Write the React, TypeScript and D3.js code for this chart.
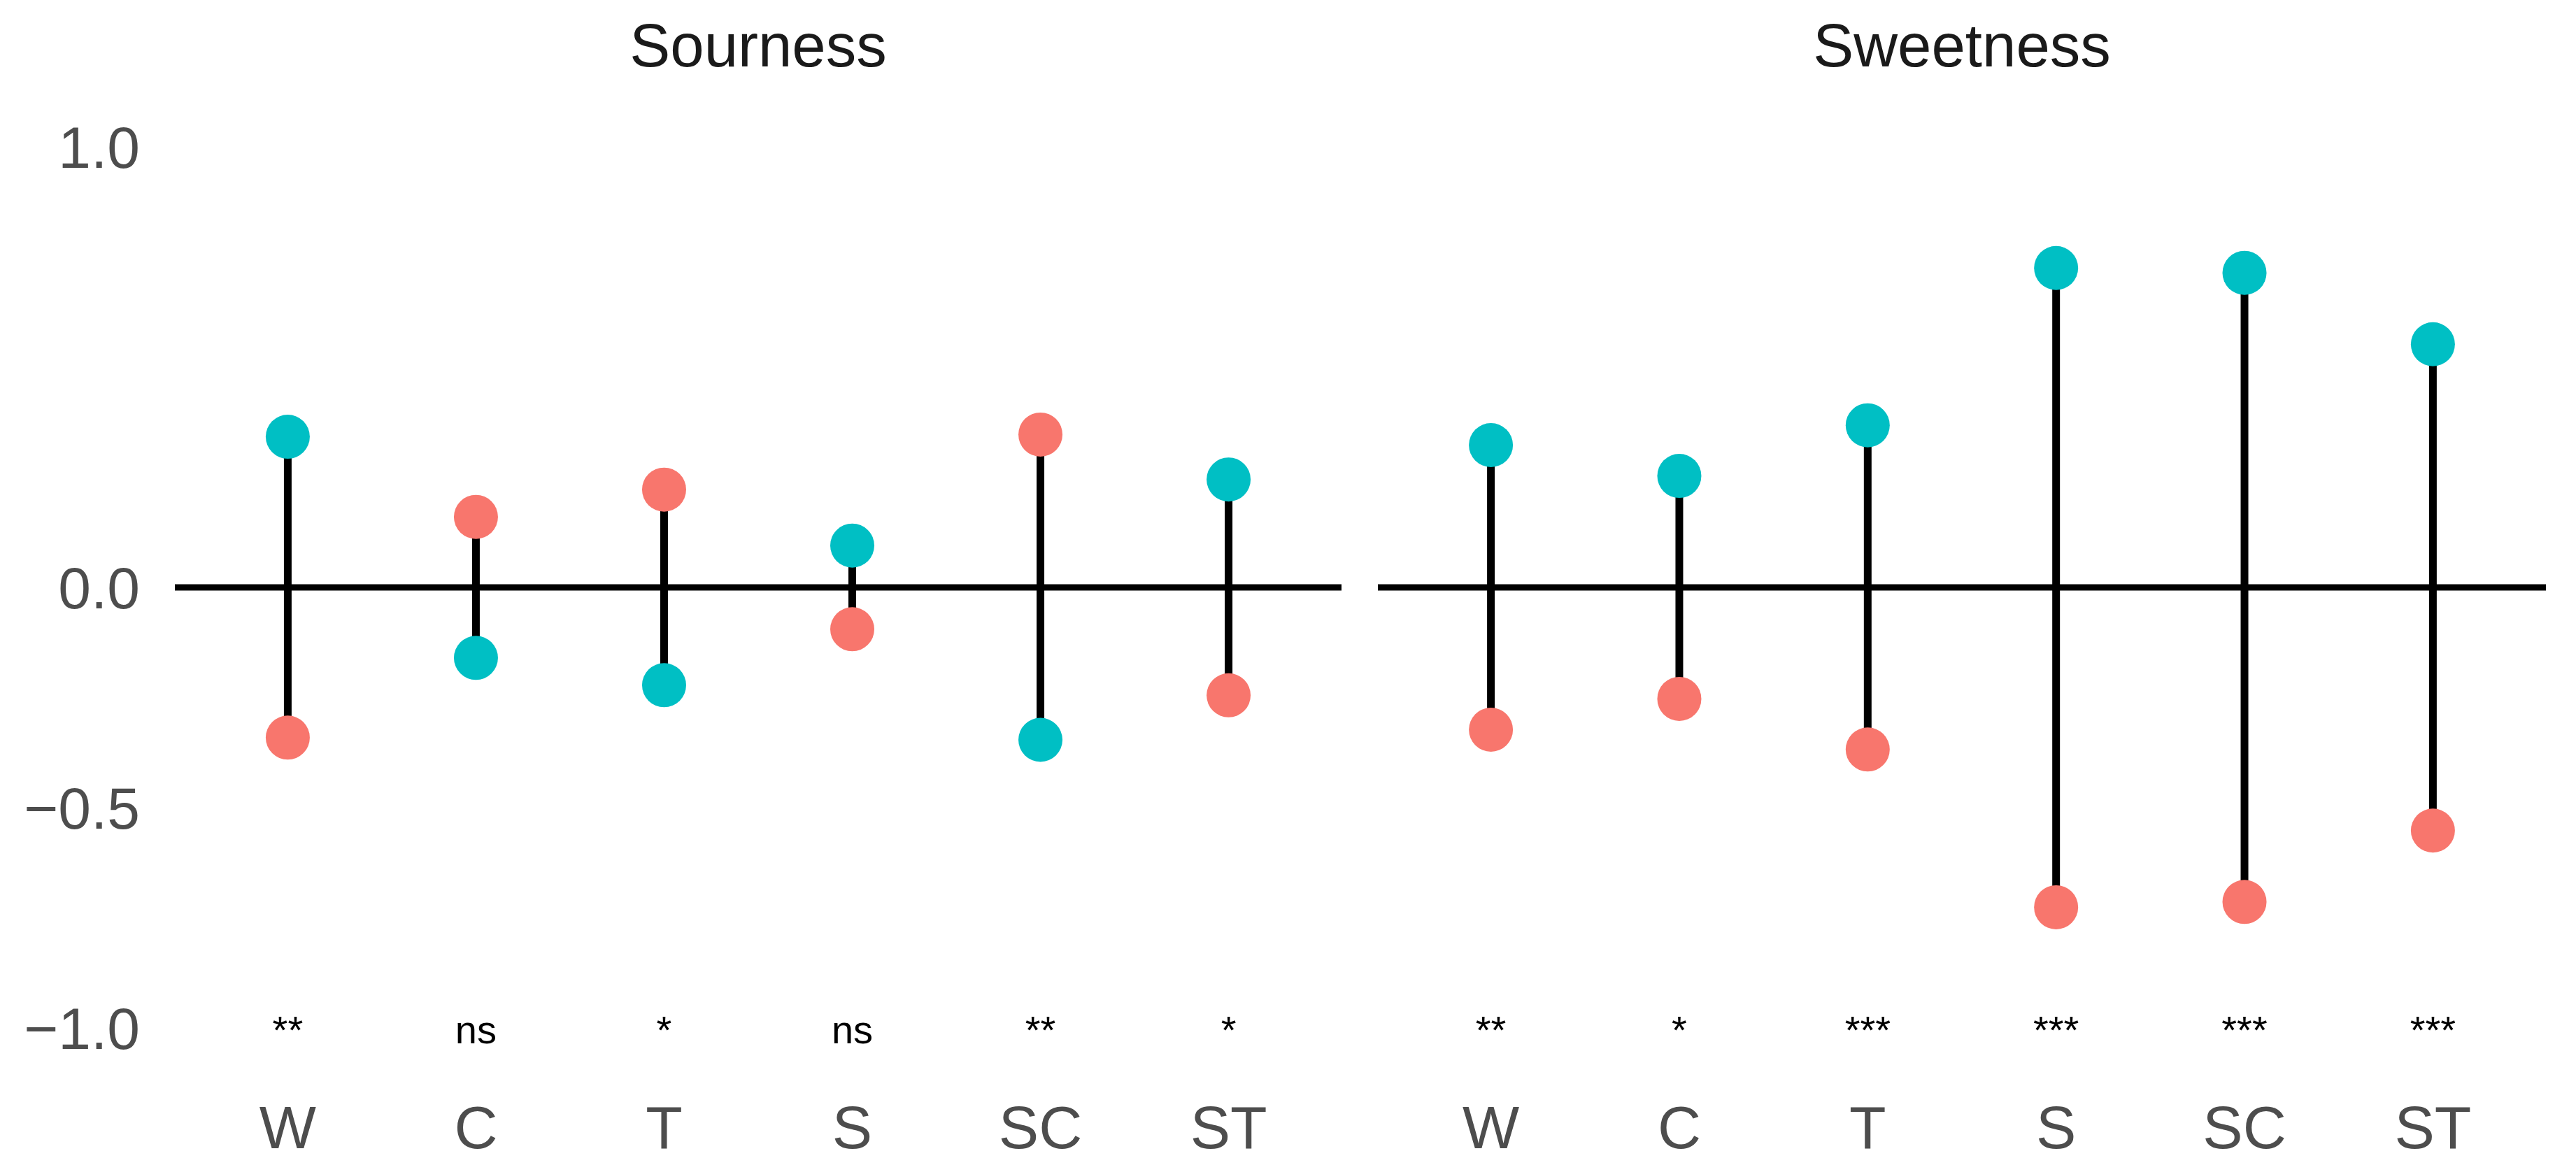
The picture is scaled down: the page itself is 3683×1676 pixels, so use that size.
import React from "react";
import * as d3 from "d3";

const categories = ["W", "C", "T", "S", "SC", "ST"];
const panels = ["Sourness", "Sweetness"];
// teal series
const sournessTeal = [0.342, -0.16, -0.222, 0.095, -0.346, 0.245];
const sweetnessTeal = [0.323, 0.253, 0.368, 0.725, 0.714, 0.552];
// salmon series
const sournessSalmon = [-0.341, 0.16, 0.222, -0.095, 0.347, -0.245];
const sweetnessSalmon = [-0.323, -0.253, -0.368, -0.726, -0.714, -0.552];
const sournessSig = ["**", "ns", "*", "ns", "**", "*"];
const sweetnessSig = ["**", "*", "***", "***", "***", "***"];
const yTicks = [-1.0, -0.5, 0.0, 1.0];

const W = 3683;
const H = 1676;
const TEAL = "#00BFC4";
const SALMON = "#F8766D";
const FONT = "'Liberation Sans', Arial, Helvetica, sans-serif";

const panelRanges: [number, number][] = [
  [250, 1918],
  [1970, 3640],
];

export default function App() {
  const y = d3.scaleLinear().domain([-1, 1]).range([1470, 210]);
  const teal = [sournessTeal, sweetnessTeal];
  const salmon = [sournessSalmon, sweetnessSalmon];
  const sig = [sournessSig, sweetnessSig];
  const fmt = (v: number) => d3.format(".1f")(v).replace("-", "\u2212");

  return (
    <svg
      width={W}
      height={H}
      style={{ position: "absolute", left: 0, top: 0, background: "#fff" }}
      fontFamily={FONT}
    >
      <rect x={0} y={0} width={W} height={H} fill="#fff" />
      {yTicks.map((t) => (
        <text
          key={t}
          x={200}
          y={y(t)}
          dy="0.36em"
          textAnchor="end"
          fontSize={84}
          fill="#4D4D4D"
        >
          {fmt(t)}
        </text>
      ))}
      {panels.map((p, pi) => {
        const x = d3
          .scalePoint<string>()
          .domain(categories)
          .range(panelRanges[pi])
          .padding(0.6);
        const [x0, x1] = panelRanges[pi];
        return (
          <g key={p}>
            <text
              x={(x0 + x1) / 2}
              y={95}
              textAnchor="middle"
              fontSize={87}
              fill="#1A1A1A"
            >
              {p}
            </text>
            <line x1={x0} x2={x1} y1={y(0)} y2={y(0)} stroke="#000" strokeWidth={9} />
            {categories.map((c, i) => (
              <line
                key={"s" + c}
                x1={x(c)}
                x2={x(c)}
                y1={y(teal[pi][i])}
                y2={y(salmon[pi][i])}
                stroke="#000"
                strokeWidth={11}
              />
            ))}
            {categories.map((c, i) => (
              <g key={"p" + c}>
                <circle cx={x(c)} cy={y(teal[pi][i])} r={31.5} fill={TEAL} />
                <circle cx={x(c)} cy={y(salmon[pi][i])} r={31.5} fill={SALMON} />
              </g>
            ))}
            {categories.map((c, i) => (
              <text
                key={"g" + c}
                x={x(c)}
                y={1492}
                textAnchor="middle"
                fontSize={56}
                fill="#000"
              >
                {sig[pi][i]}
              </text>
            ))}
            {categories.map((c) => (
              <text
                key={"x" + c}
                x={x(c)}
                y={1642}
                textAnchor="middle"
                fontSize={86}
                fill="#4D4D4D"
              >
                {c}
              </text>
            ))}
          </g>
        );
      })}
    </svg>
  );
}
